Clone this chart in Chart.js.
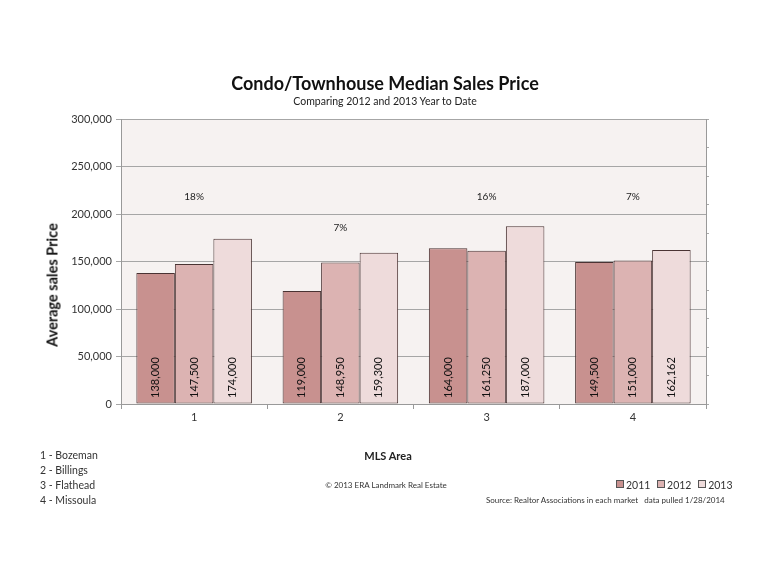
<!DOCTYPE html>
<html lang="en">
<head>
    <meta charset="UTF-8">
    <title>Condo/Townhouse Median Sales Price</title>
    <script src="https://cdn.jsdelivr.net/npm/chart.js"></script>
    <style>
        body { margin: 0; background: #fff; font-family: Lato, "Open Sans", sans-serif; color: #222; }
        #wrap { position: relative; width: 770px; height: 578px; }
        #wrap canvas { position: absolute; left: 0; top: 0; }
        .txt { position: absolute; white-space: nowrap; }
        #title { left: 0; width: 770px; top: 72px; text-align: center; font-size: 18px; font-weight: bold; color: #111; }
        #subtitle { left: 0; width: 770px; top: 95px; text-align: center; font-size: 10.5px; color: #222; }
        #ytitle { left: 52px; top: 285px; font-size: 14.5px; font-weight: bold; transform: translate(-50%, -50%) rotate(-90deg); color: #111; }
        #xtitle { left: 388px; top: 455px; transform: translate(-50%, -50%); font-size: 11px; font-weight: bold; }
        #areas { left: 40px; top: 448px; font-size: 10.5px; line-height: 15px; color: #333; }
        #copy { left: 386px; top: 485px; transform: translate(-50%, -50%); font-size: 8px; color: #333; }
        #legend { left: 612px; top: 479px; font-size: 10.5px; color: #333; }
        #legend span.sw { display: inline-block; width: 6px; height: 6px; border: 1px solid #555; margin: 0 2px 0 4px; vertical-align: 1px; }
        #source { left: 486px; top: 495px; font-size: 8px; color: #333; }
    </style>
</head>
<body>
<div id="wrap">
    <canvas id="chart" width="770" height="578"></canvas>
    <div class="txt" id="title">Condo/Townhouse Median Sales Price</div>
    <div class="txt" id="subtitle">Comparing 2012 and 2013 Year to Date</div>
    <div class="txt" id="ytitle">Average sales Price</div>
    <div class="txt" id="xtitle">MLS Area</div>
    <div class="txt" id="areas"></div>
    <div class="txt" id="copy">&copy; 2013 ERA Landmark Real Estate</div>
    <div class="txt" id="legend"></div>
    <div class="txt" id="source">Source: Realtor Associations in each market&nbsp;&nbsp; data pulled 1/28/2014</div>
</div>
<script>
    // chart data
    const areas = ['1', '2', '3', '4'];
    const areaNames = ['1 - Bozeman', '2 - Billings', '3 - Flathead', '4 - Missoula'];
    const years = ['2011', '2012', '2013'];
    const sales2011 = [138000, 119000, 164000, 149500];
    const sales2012 = [147500, 148950, 161250, 151000];
    const sales2013 = [174000, 159300, 187000, 162162];
    const pctLabels = ['18%', '7%', '16%', '7%'];
    const pctLabelY = [218000, 186000, 218000, 218000];
    const colors = ['#c8918f', '#dcb3b2', '#eedbdb'];

    document.getElementById('areas').innerHTML = areaNames.map(n => `<div>${n}</div>`).join('');
    document.getElementById('legend').innerHTML = years.map((y, i) =>
        `<span class="sw" style="background:${colors[i]}"></span>${y}`).join('&nbsp;');

    const fmt = v => v.toLocaleString('en-US');

    // plot area background
    const plotBg = {
        id: 'plotBg',
        beforeDraw(chart) {
            const { ctx, chartArea: a } = chart;
            ctx.save();
            ctx.fillStyle = '#f6f2f1';
            ctx.fillRect(a.left, a.top, a.right - a.left, a.bottom - a.top);
            ctx.restore();
        }
    };

    // rotated values in bars and percent labels above groups
    const barText = {
        id: 'barText',
        afterDatasetsDraw(chart) {
            const { ctx, chartArea: a } = chart;
            const x = chart.scales.x, y = chart.scales.y;
            ctx.save();
            ctx.fillStyle = '#111';
            ctx.font = '11px Lato, sans-serif';
            chart.data.datasets.forEach((ds, di) => {
                chart.getDatasetMeta(di).data.forEach((bar, i) => {
                    ctx.save();
                    ctx.translate(bar.x, a.bottom - 6);
                    ctx.rotate(-Math.PI / 2);
                    ctx.textAlign = 'left';
                    ctx.textBaseline = 'middle';
                    ctx.fillText(fmt(ds.data[i]), 0, 0);
                    ctx.restore();
                });
            });
            ctx.fillStyle = '#222';
            ctx.font = '10px Lato, sans-serif';
            ctx.textAlign = 'center';
            ctx.textBaseline = 'middle';
            pctLabels.forEach((p, i) => {
                ctx.fillText(p, x.getPixelForValue(i), y.getPixelForValue(pctLabelY[i]));
            });
            ctx.restore();
        }
    };

    new Chart(document.getElementById('chart'), {
        type: 'bar',
        data: {
            labels: areas,
            datasets: [sales2011, sales2012, sales2013].map((d, i) => ({
                label: years[i],
                data: d,
                backgroundColor: colors[i],
                borderColor: '#4a3333',
                borderWidth: 1,
                borderSkipped: false,
                barPercentage: 1,
                categoryPercentage: 0.79
            }))
        },
        options: {
            responsive: false,
            animation: false,
            layout: { padding: { left: 30, right: 60, top: 119, bottom: 150 } },
            plugins: { legend: { display: false }, tooltip: { enabled: false } },
            scales: {
                x: {
                    grid: { offset: true, drawOnChartArea: false, tickLength: 5, color: '#999' },
                    border: { color: '#999' },
                    ticks: { color: '#333', font: { family: 'Lato', size: 11 }, padding: 2 },
                    afterFit: s => { s.height = 24; }
                },
                y: {
                    min: 0, max: 300000,
                    ticks: { stepSize: 50000, color: '#333', font: { family: 'Lato', size: 11 }, padding: 4,
                             callback: v => fmt(v) },
                    grid: { color: '#a6a6a6', tickLength: 5 },
                    border: { color: '#999' },
                    afterFit: s => { s.width = 91; }
                },
                y2: {
                    position: 'right',
                    min: 0, max: 300000,
                    ticks: { stepSize: 30000, display: false },
                    grid: { drawOnChartArea: false, tickLength: 3, color: '#aaa' },
                    border: { color: '#999' },
                    afterFit: s => { s.width = 4; }
                }
            }
        },
        plugins: [plotBg, barText]
    });
</script>
</body>
</html>
